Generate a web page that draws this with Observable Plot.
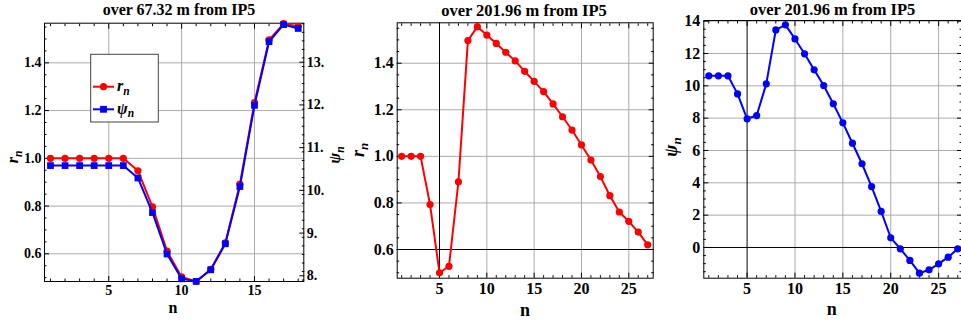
<!DOCTYPE html>
<html>
<head>
<meta charset="utf-8">
<script src="https://cdn.jsdelivr.net/npm/d3@7"></script>
<script src="https://cdn.jsdelivr.net/npm/@observablehq/plot@0.6"></script>
<style>
  html, body { margin: 0; padding: 0; background: #fff; }
  #wrap { position: relative; width: 961px; height: 324px; overflow: hidden; background: #fff; }
  #wrap svg { position: absolute; top: 0; overflow: visible; }
  #wrap svg text { font-family: 'Liberation Serif', 'Times New Roman', serif !important; font-weight: bold; fill: #000; }
</style>
</head>
<body>
<div id="wrap"></div>
<script>
// ---------------- data ----------------
const titles = ["over 67.32 m from IP5", "over 201.96 m from IP5", "over 201.96 m from IP5"];

// panel 1 : 67.32 m
const n1 = [1,2,3,4,5,6,7,8,9,10,11,12,13,14,15,16,17,18];
const r1 = [1.0,1.0,1.0,1.0,1.0,1.0,0.948,0.797,0.611,0.503,0.484,0.535,0.646,0.892,1.233,1.496,1.564,1.553];
const psi1 = [10.58,10.58,10.58,10.58,10.58,10.58,10.29,9.48,8.51,7.93,7.87,8.14,8.75,10.09,11.99,13.48,13.88,13.79];

// panel 2 : r_n over 201.96 m
const n2 = [1,2,3,4,5,6,7,8,9,10,11,12,13,14,15,16,17,18,19,20,21,22,23,24,25,26,27];
const r2 = [1.0,1.0,1.0,0.793,0.5,0.528,0.891,1.497,1.557,1.521,1.485,1.447,1.41,1.365,1.322,1.278,1.225,1.17,1.113,1.049,0.984,0.913,0.831,0.761,0.721,0.675,0.62];

// panel 3 : psi_n over 201.96 m
const n3 = [1,2,3,4,5,6,7,8,9,10,11,12,13,14,15,16,17,18,19,20,21,22,23,24,25,26,27];
const psi3 = [10.62,10.62,10.62,9.5,7.96,8.16,10.12,13.46,13.77,12.9,11.98,10.99,10.02,8.89,7.71,6.45,5.18,3.77,2.23,0.6,-0.08,-0.8,-1.59,-1.38,-1.01,-0.6,-0.08];

// ticks
const xTicks1 = [5,10,15];
const yTicks1 = [0.6,0.8,1.0,1.2,1.4];
const psiTicks1 = [8,9,10,11,12,13];
const xTicks2 = [5,10,15,20,25];
const yTicks2 = [0.6,0.8,1.0,1.2,1.4];
const yTicks3 = [0,2,4,6,8,10,12,14];

const legendNames = ["r", "ψ"];
const legendColors = ["#ff0000", "#0000ff"];

// ---------------- helpers ----------------
const RED = "#ff0000", BLUE = "#0000ff", GRID = "#ababab";
const FONT = "'Liberation Serif', 'Times New Roman', serif";

function frameTicks({xMajor, xMinor, yMajor, yMinor, rightY = true}) {
  const m = [];
  const opt = {fill: "none", label: null, stroke: "black"};
  m.push(Plot.axisX({...opt, ticks: xMajor, tickSize: -5}));
  m.push(Plot.axisX({...opt, ticks: xMinor, tickSize: -2.5}));
  m.push(Plot.axisX({...opt, anchor: "top", ticks: xMajor, tickSize: -5}));
  m.push(Plot.axisX({...opt, anchor: "top", ticks: xMinor, tickSize: -2.5}));
  m.push(Plot.axisY({...opt, ticks: yMajor, tickSize: -5}));
  m.push(Plot.axisY({...opt, ticks: yMinor, tickSize: -2.5}));
  if (rightY) {
    m.push(Plot.axisY({...opt, anchor: "right", ticks: yMajor, tickSize: -5}));
    m.push(Plot.axisY({...opt, anchor: "right", ticks: yMinor, tickSize: -2.5}));
  }
  return m;
}

function addText(svg, {x, y, size, anchor = "middle", rotate = 0, parts}) {
  const t = d3.select(svg).append("text")
    .attr("transform", `translate(${x},${y}) rotate(${rotate})`)
    .attr("text-anchor", anchor)
    .attr("font-family", FONT)
    .attr("font-weight", "bold")
    .attr("font-size", size)
    .attr("fill", "black");
  for (const p of parts) {
    const ts = t.append("tspan").text(p.text);
    if (p.italic) ts.attr("font-style", "italic");
    if (p.sub) ts.attr("font-size", size * 0.72).attr("dy", size * 0.22);
  }
  return t;
}

function place(svg, left) {
  svg.style.left = left + "px";
  document.getElementById("wrap").appendChild(svg);
}

const baseStyle = {fontFamily: FONT, fontWeight: "bold", color: "black", background: "transparent", overflow: "visible"};

// ---------------- panel 1 ----------------
const rDom1 = [0.484, 1.566];
const psiDom1 = [7.867, 13.913];
const psiToR = d3.scaleLinear().domain(psiDom1).range(rDom1);
const data1 = n1.map((n, i) => ({n, r: r1[i], rp: psiToR(psi1[i])}));

const p1 = Plot.plot({
  width: 345, height: 324,
  marginLeft: 44, marginRight: 41.7, marginTop: 22.7, marginBottom: 43,
  x: {domain: [0.59, 18.385]},
  y: {domain: rDom1},
  style: {...baseStyle, fontSize: "14px"},
  marks: [
    Plot.gridX(xTicks1, {stroke: GRID, strokeOpacity: 1, strokeWidth: 1}),
    Plot.gridY(yTicks1, {stroke: GRID, strokeOpacity: 1, strokeWidth: 1}),
    Plot.axisX({ticks: xTicks1, tickSize: 0, tickPadding: 4, label: null, fontSize: 14, tickFormat: d3.format("d")}),
    Plot.axisY({ticks: yTicks1, tickSize: 0, tickPadding: 3, label: null, fontSize: 14, tickFormat: d3.format(".1f")}),
    Plot.axisY({anchor: "right", ticks: psiTicks1.map(psiToR), tickSize: 0, tickPadding: 3, label: null, fontSize: 14,
                tickFormat: d => Math.round(psiToR.invert(d)) + "."}),
    ...frameTicks({xMajor: xTicks1, xMinor: d3.range(1, 19).filter(v => v % 5), yMajor: yTicks1,
                   yMinor: d3.range(0.5, 1.56, 0.05).map(v => +v.toFixed(2)).filter(v => Math.round(v * 100) % 20),
                   rightY: false}),
    Plot.axisY({fill: "none", label: null, stroke: "black", anchor: "right", ticks: psiTicks1.map(psiToR), tickSize: -5}),
    Plot.axisY({fill: "none", label: null, stroke: "black", anchor: "right",
                ticks: d3.range(7.9, 13.91, 0.2).map(v => +v.toFixed(1)).filter(v => Math.abs(v - Math.round(v)) > 0.05).map(psiToR), tickSize: -2.5}),
    Plot.frame({stroke: "black", strokeWidth: 1}),
    Plot.line(data1, {x: "n", y: "r", stroke: RED, strokeWidth: 2}),
    Plot.dot(data1, {x: "n", y: "r", fill: RED, r: 3.6, symbol: "circle"}),
    Plot.line(data1, {x: "n", y: "rp", stroke: BLUE, strokeWidth: 2}),
    Plot.dot(data1, {x: "n", y: "rp", fill: BLUE, r: 3.8, symbol: "square"})
  ]
});
place(p1, 0);
addText(p1, {x: 179, y: 15, size: 16, parts: [{text: titles[0]}]});
addText(p1, {x: 173, y: 313, size: 16, parts: [{text: "n"}]});
addText(p1, {x: 18, y: 157, size: 16, rotate: -90, parts: [{text: "r", italic: true}, {text: "n", italic: true, sub: true}]});
addText(p1, {x: 340, y: 155, size: 16, rotate: -90, parts: [{text: "ψ", italic: true}, {text: "n", italic: true, sub: true}]});

// legend (panel 1)
{
  const g = d3.select(p1).append("g");
  g.append("rect").attr("x", 90.7).attr("y", 54.3).attr("width", 67.6).attr("height", 67.7)
    .attr("fill", "white").attr("stroke", "#444").attr("stroke-width", 1);
  legendNames.forEach((name, i) => {
    const y = 86.7 + i * 22.6;
    g.append("line").attr("x1", 93).attr("x2", 114).attr("y1", y).attr("y2", y)
      .attr("stroke", legendColors[i]).attr("stroke-width", 2);
    if (i === 0) g.append("circle").attr("cx", 103.5).attr("cy", y).attr("r", 3.6).attr("fill", legendColors[i]);
    else g.append("rect").attr("x", 103.5 - 3.4).attr("y", y - 3.4).attr("width", 6.8).attr("height", 6.8).attr("fill", legendColors[i]);
    addText(p1, {x: 117, y: y + 4.5, size: 16, anchor: "start",
      parts: [{text: name, italic: true}, {text: "n", italic: true, sub: true}]});
  });
}

// ---------------- panel 2 ----------------
const data2 = n2.map((n, i) => ({n, r: r2[i]}));
const p2 = Plot.plot({
  width: 310, height: 324,
  marginLeft: 51.7, marginRight: 2.3, marginTop: 22.3, marginBottom: 46.3,
  x: {domain: [0.53, 27.58]},
  y: {domain: [0.4768, 1.5735]},
  style: {...baseStyle, fontSize: "16px"},
  marks: [
    Plot.gridX(xTicks2.filter(v => v !== 5), {stroke: GRID, strokeOpacity: 1, strokeWidth: 1}),
    Plot.gridY(yTicks2.filter(v => v !== 0.6), {stroke: GRID, strokeOpacity: 1, strokeWidth: 1}),
    Plot.ruleX([5], {stroke: "black", strokeWidth: 1}),
    Plot.ruleY([0.6], {stroke: "black", strokeWidth: 1}),
    Plot.axisX({ticks: xTicks2, tickSize: 0, tickPadding: 4, label: null, fontSize: 16, tickFormat: d3.format("d")}),
    Plot.axisY({ticks: yTicks2, tickSize: 0, tickPadding: 3.5, label: null, fontSize: 16, tickFormat: d3.format(".1f")}),
    ...frameTicks({xMajor: xTicks2, xMinor: d3.range(1, 28).filter(v => v % 5), yMajor: yTicks2,
                   yMinor: d3.range(0.5, 1.56, 0.05).map(v => +v.toFixed(2)).filter(v => Math.round(v * 100) % 20)}),
    Plot.frame({stroke: "black", strokeWidth: 1}),
    Plot.line(data2, {x: "n", y: "r", stroke: RED, strokeWidth: 2}),
    Plot.dot(data2, {x: "n", y: "r", fill: RED, r: 3.6})
  ]
});
place(p2, 345);
addText(p2, {x: 179, y: 16, size: 16.5, parts: [{text: titles[1]}]});
addText(p2, {x: 180, y: 316, size: 18, parts: [{text: "n"}]});
addText(p2, {x: 19, y: 150, size: 18, rotate: -90, parts: [{text: "r", italic: true}, {text: "n", italic: true, sub: true}]});

// ---------------- panel 3 ----------------
const data3 = n3.map((n, i) => ({n, psi: psi3[i]}));
const p3 = Plot.plot({
  width: 306, height: 324,
  marginLeft: 48.3, marginRight: 0, marginTop: 20, marginBottom: 46.3,
  x: {domain: [0.478, 27.39]},
  y: {domain: [-1.9, 14.04]},
  style: {...baseStyle, fontSize: "16px"},
  marks: [
    Plot.gridX(xTicks2.filter(v => v !== 5), {stroke: GRID, strokeOpacity: 1, strokeWidth: 1}),
    Plot.gridY(yTicks3.filter(v => v !== 0), {stroke: GRID, strokeOpacity: 1, strokeWidth: 1}),
    Plot.ruleX([5], {stroke: "black", strokeWidth: 1}),
    Plot.ruleY([0], {stroke: "black", strokeWidth: 1}),
    Plot.axisX({ticks: xTicks2, tickSize: 0, tickPadding: 4, label: null, fontSize: 16, tickFormat: d3.format("d")}),
    Plot.axisY({ticks: yTicks3, tickSize: 0, tickPadding: 3.5, label: null, fontSize: 16, tickFormat: d3.format("d")}),
    ...frameTicks({xMajor: xTicks2, xMinor: d3.range(1, 28).filter(v => v % 5), yMajor: yTicks3,
                   yMinor: d3.range(-1.5, 14.01, 0.5).filter(v => v % 2 !== 0)}),
    Plot.frame({stroke: "black", strokeWidth: 1}),
    Plot.line(data3, {x: "n", y: "psi", stroke: BLUE, strokeWidth: 2}),
    Plot.dot(data3, {x: "n", y: "psi", fill: BLUE, r: 3.6})
  ]
});
place(p3, 655);
addText(p3, {x: 177.5, y: 15, size: 16.5, parts: [{text: titles[2]}]});
addText(p3, {x: 176.7, y: 315, size: 18, parts: [{text: "n"}]});
addText(p3, {x: 22, y: 147, size: 18, rotate: -90, parts: [{text: "ψ", italic: true}, {text: "n", italic: true, sub: true}]});
</script>
</body>
</html>
